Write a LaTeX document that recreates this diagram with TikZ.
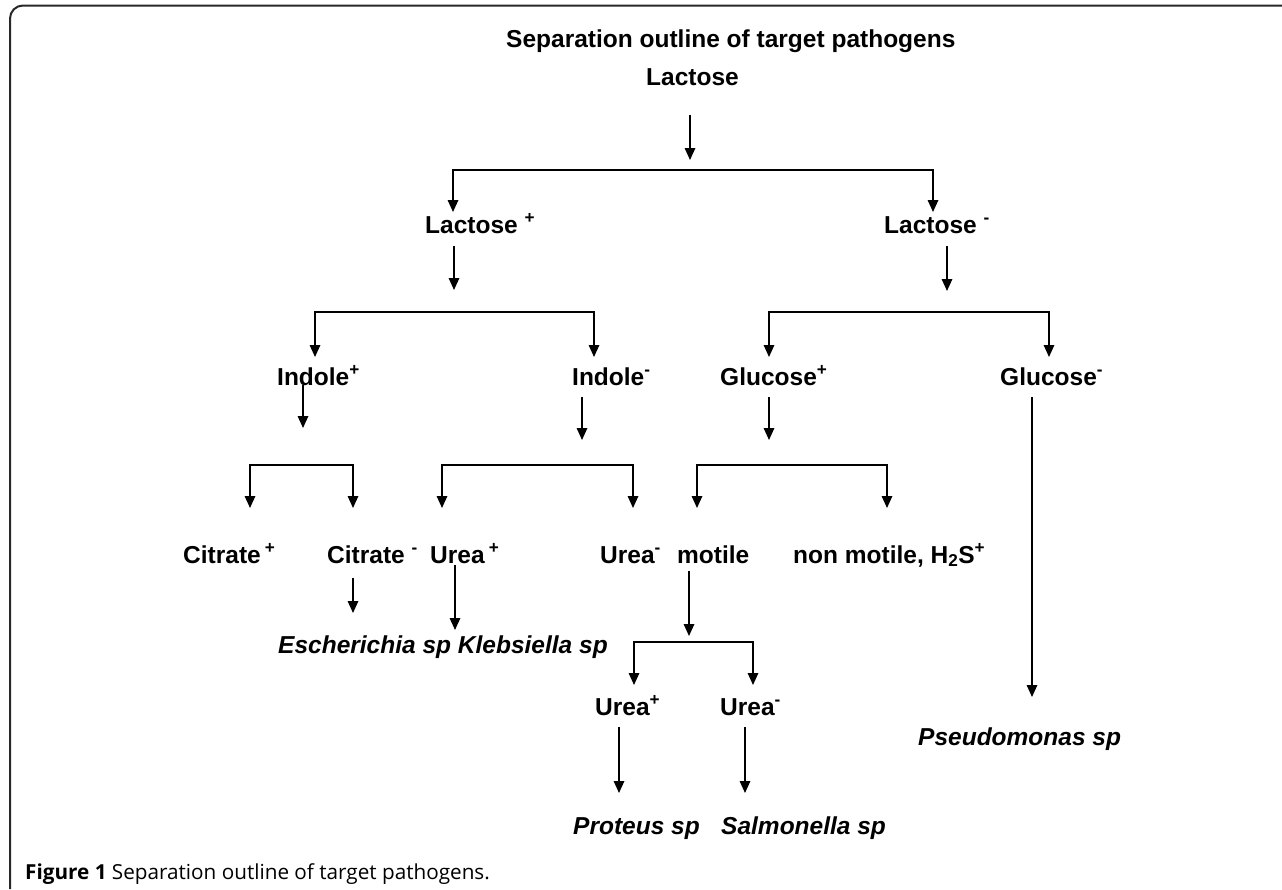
\documentclass[tikz,border=0pt]{standalone}
\usepackage{fontspec}
\setmainfont{Liberation Sans}
\newfontfamily\capfont{Open Sans}
\usetikzlibrary{arrows.meta}
\begin{document}
\begin{tikzpicture}[x=1pt,y=-1pt,
  lbl/.style={inner sep=0pt,anchor=base west,font=\fontsize{24.5}{29}\selectfont\bfseries},
  sp/.style={lbl,font=\fontsize{24.5}{29}\selectfont\bfseries\itshape},
  arr/.style={line width=1.6pt,-{Triangle[length=12pt,width=10.5pt]}},
  bar/.style={line width=1.6pt,{Triangle[length=12pt,width=10.5pt]}-{Triangle[length=12pt,width=10.5pt]}},
  frame/.style={line width=2pt,draw={rgb,255:red,40;green,40;blue,40},rounded corners=13pt}]
\useasboundingbox (0,0) rectangle (1282,889);
\draw[frame] (10,889) -- (10,5.5) -- (1282,5.5);
% labels
\node[lbl] (title) at (506,47) {Separation outline of target pathogens};
\node[lbl] (lac) at (646,85) {Lactose};
\node[lbl] (lacp) at (425,233) {Lactose \textsuperscript{+}};
\node[lbl] (lacm) at (884,233) {Lactose \textsuperscript{-}};
\node[lbl] (indp) at (277,385) {Indole\textsuperscript{+}};
\node[lbl] (indm) at (572,385) {Indole\textsuperscript{-}};
\node[lbl] (glup) at (720,385) {Glucose\textsuperscript{+}};
\node[lbl] (glum) at (1000,385) {Glucose\textsuperscript{-}};
\node[lbl] (citp) at (183,563) {Citrate\,\textsuperscript{+}};
\node[lbl] (citm) at (327,563) {Citrate \textsuperscript{-}};
\node[lbl] (ureap) at (430,563) {Urea\,\textsuperscript{+}};
\node[lbl] (uream) at (600,563) {Urea\textsuperscript{-}};
\node[lbl] (mot) at (677,563) {motile};
\node[lbl] (nmot) at (793,563) {non motile, H\textsubscript{2}S\textsuperscript{+}};
\node[sp] (esch) at (278,653) {Escherichia sp Klebsiella sp};
\node[lbl] (ureap2) at (595,715) {Urea\textsuperscript{+}};
\node[lbl] (uream2) at (720,715) {Urea\textsuperscript{-}};
\node[sp] (prot) at (573,834) {Proteus sp};
\node[sp] (salm) at (721,834) {Salmonella sp};
\node[sp] (pseu) at (918,745) {Pseudomonas sp};
\node[inner sep=0pt,anchor=base west,font=\capfont\fontsize{20.7}{24}\selectfont] (cap) at (25,879) {\textbf{Figure 1} Separation outline of target pathogens.};
% coordinates
\coordinate (a0s) at (690,115); \coordinate (a0e) at (690,160);
\coordinate (b1a) at (453,212); \coordinate (b1b) at (453,170); \coordinate (b1c) at (933,170); \coordinate (b1d) at (933,212);
\coordinate (a1s) at (454,246); \coordinate (a1e) at (454,290);
\coordinate (a2s) at (947,246); \coordinate (a2e) at (947,291);
\coordinate (b2a) at (315,357); \coordinate (b2b) at (315,312); \coordinate (b2c) at (594,312); \coordinate (b2d) at (594,357);
\coordinate (b3a) at (769,357); \coordinate (b3b) at (769,312); \coordinate (b3c) at (1049,312); \coordinate (b3d) at (1049,357);
\coordinate (a3s) at (303,385); \coordinate (a3e) at (303,428);
\coordinate (a4s) at (582,397); \coordinate (a4e) at (582,440);
\coordinate (a5s) at (769,397); \coordinate (a5e) at (769,440);
\coordinate (a6s) at (1032,397); \coordinate (a6e) at (1032,697);
\coordinate (b4a) at (250,508); \coordinate (b4b) at (250,465); \coordinate (b4c) at (353,465); \coordinate (b4d) at (353,508);
\coordinate (b5a) at (442,508); \coordinate (b5b) at (442,465); \coordinate (b5c) at (633,465); \coordinate (b5d) at (633,508);
\coordinate (b6a) at (697,508); \coordinate (b6b) at (697,465); \coordinate (b6c) at (887,465); \coordinate (b6d) at (887,508);
\coordinate (a7s) at (353,578); \coordinate (a7e) at (353,613);
\coordinate (a8s) at (455,565); \coordinate (a8e) at (455,630);
\coordinate (a9s) at (689,571); \coordinate (a9e) at (689,636);
\coordinate (b7a) at (634,685); \coordinate (b7b) at (634,642); \coordinate (b7c) at (753,642); \coordinate (b7d) at (753,685);
\coordinate (a10s) at (619,727); \coordinate (a10e) at (619,793);
\coordinate (a11s) at (745,727); \coordinate (a11e) at (745,793);
% connectors
\draw[arr] (a0s) -- (a0e);
\draw[bar] (b1a) -- (b1b) -- (b1c) -- (b1d);
\draw[arr] (a1s) -- (a1e);
\draw[arr] (a2s) -- (a2e);
\draw[bar] (b2a) -- (b2b) -- (b2c) -- (b2d);
\draw[bar] (b3a) -- (b3b) -- (b3c) -- (b3d);
\draw[arr] (a3s) -- (a3e);
\draw[arr] (a4s) -- (a4e);
\draw[arr] (a5s) -- (a5e);
\draw[arr] (a6s) -- (a6e);
\draw[bar] (b4a) -- (b4b) -- (b4c) -- (b4d);
\draw[bar] (b5a) -- (b5b) -- (b5c) -- (b5d);
\draw[bar] (b6a) -- (b6b) -- (b6c) -- (b6d);
\draw[arr] (a7s) -- (a7e);
\draw[arr] (a8s) -- (a8e);
\draw[arr] (a9s) -- (a9e);
\draw[bar] (b7a) -- (b7b) -- (b7c) -- (b7d);
\draw[arr] (a10s) -- (a10e);
\draw[arr] (a11s) -- (a11e);
\end{tikzpicture}
\end{document}
